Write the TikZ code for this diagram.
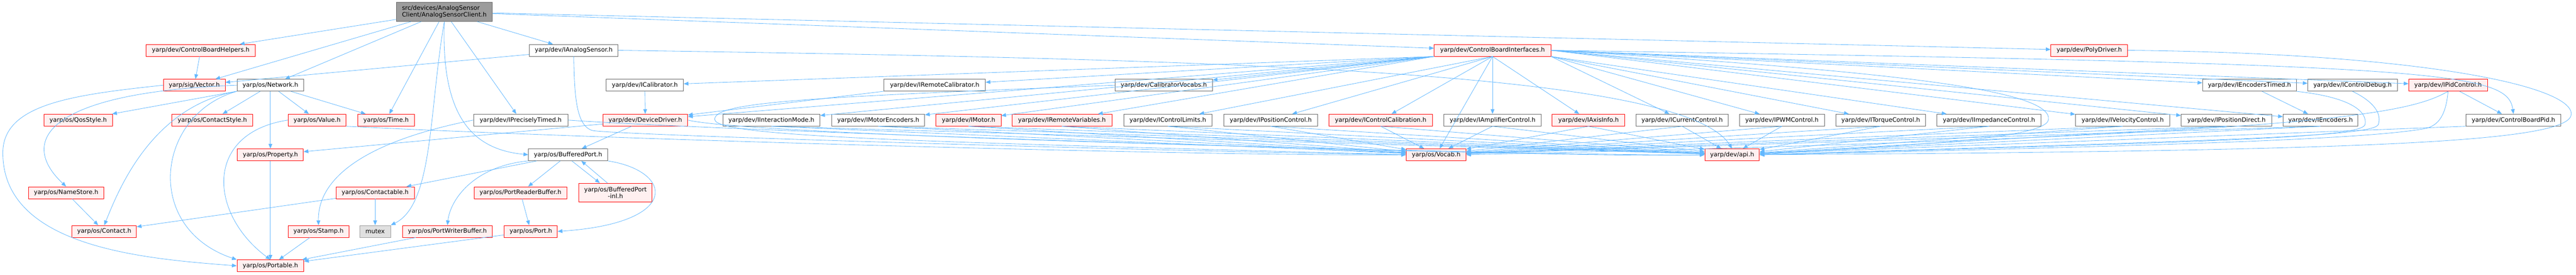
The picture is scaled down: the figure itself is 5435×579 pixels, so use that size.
\documentclass[tikz,border=0pt]{standalone}
\usepackage{fontspec}
\setmainfont{DejaVu Sans}
\usetikzlibrary{arrows.meta}
\definecolor{inclblue}{HTML}{63B8FF}
\definecolor{redfill}{HTML}{FFF0F0}
\definecolor{grayline}{HTML}{666666}
\tikzset{
  hdr/.style={draw=grayline, fill=white, line width=1pt, minimum height=25pt, inner sep=0pt,
    font=\fontsize{12.8}{14.5}\selectfont},
  hdrred/.style={hdr, draw=red, fill=redfill},
  hdrtop/.style={hdr, fill=grayline!65, minimum height=40pt},
  hdrext/.style={hdr, draw=grayline!65, fill=grayline!20},
  incl/.style={draw=inclblue, line width=0.9pt, -{Triangle[length=10pt,width=8pt]}}
}
\begin{document}
\begin{tikzpicture}[x=1pt,y=-1pt]
%\draw[step=100,gray,very thin] (0,0) grid (5435,579);
\useasboundingbox (0,0) rectangle (5435,579);

\node[hdrtop, minimum width=203pt, align=left] (src) at (937.5,25) {src/devices/AnalogSensor\\Client/AnalogSensorClient.h};

\node[hdrred, minimum width=231pt] (cbhelpers) at (423.5,106) {yarp/dev/ControlBoardHelpers.h};
\node[hdr, minimum width=187pt] (ianalogsensor) at (1210.5,106) {yarp/dev/IAnalogSensor.h};
\node[hdrred, minimum width=246pt] (cbinterfaces) at (3149,106) {yarp/dev/ControlBoardInterfaces.h};
\node[hdrred, minimum width=162pt] (polydriver) at (4408,106) {yarp/dev/PolyDriver.h};

\node[hdrred, minimum width=130pt] (vector) at (410,179.5) {yarp/sig/Vector.h};
\node[hdr, minimum width=141pt] (network) at (570.5,179.5) {yarp/os/Network.h};
\node[hdr, minimum width=163pt] (icalibrator) at (1360.5,179.5) {yarp/dev/ICalibrator.h};
\node[hdr, minimum width=214pt] (iremotecalibrator) at (1972,179.5) {yarp/dev/IRemoteCalibrator.h};
\node[hdr, minimum width=205pt] (calibratorvocabs) at (2455.5,179.5) {yarp/dev/CalibratorVocabs.h};
\node[hdr, minimum width=198pt] (iencoderstimed) at (4746,179.5) {yarp/dev/IEncodersTimed.h};
\node[hdr, minimum width=189pt] (icontroldebug) at (4963.5,179.5) {yarp/dev/IControlDebug.h};
\node[hdrred, minimum width=166pt] (ipidcontrol) at (5165,179.5) {yarp/dev/IPidControl.h};

\node[hdrred, minimum width=144pt] (qosstyle) at (165,253) {yarp/os/QosStyle.h};
\node[hdrred, minimum width=170pt] (contactstyle) at (448,253) {yarp/os/ContactStyle.h};
\node[hdrred, minimum width=122pt] (value) at (669,253) {yarp/os/Value.h};
\node[hdrred, minimum width=119pt] (time) at (814.5,253) {yarp/os/Time.h};
\node[hdr, minimum width=199pt] (ipreciselytimed) at (1098.5,253) {yarp/dev/IPreciselyTimed.h};
\node[hdrred, minimum width=179pt] (devicedriver) at (1361.5,253) {yarp/dev/DeviceDriver.h};
\node[hdr, minimum width=205pt] (iinteractionmode) at (1627.5,253) {yarp/dev/IInteractionMode.h};
\node[hdr, minimum width=196pt] (imotorencoders) at (1853,253) {yarp/dev/IMotorEncoders.h};
\node[hdrred, minimum width=137pt] (imotor) at (2043.5,253) {yarp/dev/IMotor.h};
\node[hdrred, minimum width=211pt] (iremotevariables) at (2240.5,253) {yarp/dev/IRemoteVariables.h};
\node[hdr, minimum width=186pt] (icontrollimits) at (2464,253) {yarp/dev/IControlLimits.h};
\node[hdr, minimum width=198pt] (ipositioncontrol) at (2681,253) {yarp/dev/IPositionControl.h};
\node[hdrred, minimum width=218pt] (icontrolcalibration) at (2913,253) {yarp/dev/IControlCalibration.h};
\node[hdr, minimum width=206pt] (iamplifiercontrol) at (3149,253) {yarp/dev/IAmplifierControl.h};
\node[hdrred, minimum width=153pt] (iaxisinfo) at (3351.5,253) {yarp/dev/IAxisInfo.h};
\node[hdr, minimum width=194pt] (icurrentcontrol) at (3549,253) {yarp/dev/ICurrentControl.h};
\node[hdr, minimum width=179pt] (ipwmcontrol) at (3759.5,253) {yarp/dev/IPWMControl.h};
\node[hdr, minimum width=190pt] (itorquecontrol) at (3968,253) {yarp/dev/ITorqueControl.h};
\node[hdr, minimum width=219pt] (iimpedancecontrol) at (4196.5,253) {yarp/dev/IImpedanceControl.h};
\node[hdr, minimum width=199pt] (ivelocitycontrol) at (4478.5,253) {yarp/dev/IVelocityControl.h};
\node[hdr, minimum width=191pt] (ipositiondirect) at (4697.5,253) {yarp/dev/IPositionDirect.h};
\node[hdr, minimum width=158pt] (iencoders) at (4896,253) {yarp/dev/IEncoders.h};
\node[hdr, minimum width=200pt] (controlboardpid) at (5303,253) {yarp/dev/ControlBoardPid.h};

\node[hdrred, minimum width=139pt] (property) at (570.5,326) {yarp/os/Property.h};
\node[hdr, minimum width=167pt] (bufferedport) at (1198.5,326) {yarp/os/BufferedPort.h};
\node[hdrred, minimum width=126pt] (vocab) at (3030,326) {yarp/os/Vocab.h};
\node[hdrred, minimum width=115pt] (api) at (3654.5,326) {yarp/dev/api.h};

\node[hdrred, minimum width=159pt] (namestore) at (139.5,406) {yarp/os/NameStore.h};
\node[hdrred, minimum width=165pt] (contactable) at (791.5,406) {yarp/os/Contactable.h};
\node[hdrred, minimum width=196pt] (portreaderbuffer) at (1098,406) {yarp/os/PortReaderBuffer.h};
\node[hdrred, minimum width=155pt, minimum height=40pt, align=center] (bufferedportinl) at (1298.5,406) {yarp/os/BufferedPort\\-inl.h};

\node[hdrred, minimum width=136pt] (contact) at (220,487.5) {yarp/os/Contact.h};
\node[hdrred, minimum width=128pt] (stamp) at (672,487.5) {yarp/os/Stamp.h};
\node[hdrext, minimum width=65pt] (mutex) at (791.5,487.5) {mutex};
\node[hdrred, minimum width=190pt] (portwriterbuffer) at (944,487.5) {yarp/os/PortWriterBuffer.h};
\node[hdrred, minimum width=112pt] (port) at (1120,487.5) {yarp/os/Port.h};

\node[hdrred, minimum width=141pt] (portable) at (570.5,560) {yarp/os/Portable.h};

\draw[incl] (src) -- (cbhelpers);
\draw[incl] (src) -- (vector);
\draw[incl] (src) -- (network);
\draw[incl] (src) -- (time);
\draw[incl] (src.south) .. controls (905,230) and (915,430) .. (mutex.north east);
\draw[incl] (src.south) .. controls (930,250) and (1000,315) .. (bufferedport.west);
\draw[incl] (src) -- (ipreciselytimed);
\draw[incl] (src) -- (ianalogsensor);
\draw[incl] (src) -- (cbinterfaces);
\draw[incl] (src) -- (polydriver);

\draw[incl] (cbhelpers) -- (vector);
\draw[incl] (ianalogsensor) -- (vector);
\draw[incl] (ianalogsensor.south) .. controls (1212,200) and (1215,265) .. (1250,275) .. controls (1300,285) and (2500,320) .. (vocab.west);
\draw[incl] (ianalogsensor.east) .. controls (2600,125) and (3550,150) .. (api.north);

\draw[incl] (vector.west) .. controls (150,200) and (8,220) .. (6,320) .. controls (4,520) and (300,545) .. (portable.west);
\draw[incl] (network.west) .. controls (90,195) and (40,300) .. (namestore.north);
\draw[incl] (network) -- (qosstyle);
\draw[incl] (network) -- (contactstyle);
\draw[incl] (network) -- (value);
\draw[incl] (network) -- (property);
\draw[incl] (network) -- (time);
\draw[incl] (network.south west) .. controls (320,225) and (250,400) .. (contact.north);
\draw[incl] (network.south west) .. controls (330,240) and (300,480) .. (portable.north west);

\draw[incl] (value.west) .. controls (430,280) and (440,450) .. (portable.north);
\draw[incl] (value.south east) .. controls (1300,295) and (2600,330) .. (vocab.west);
\draw[incl] (property) -- (portable);
\draw[incl] (namestore) -- (contact);
\draw[incl] (contactable) -- (contact);
\draw[incl] (contactable) -- (mutex);
\draw[incl] (stamp) -- (portable);
\draw[incl] (portwriterbuffer) -- (portable);
\draw[incl] (port) -- (portable);

\draw[incl] (ipreciselytimed.west) .. controls (760,300) and (670,380) .. (stamp.north);
\draw[incl] (ipreciselytimed.east) .. controls (1500,275) and (3300,335) .. (api.west);
\draw[incl] (devicedriver) -- (property);
\draw[incl] (devicedriver) -- (bufferedport);
\draw[incl] (devicedriver.east) .. controls (1600,290) and (3400,330) .. (api.west);
\draw[incl] (icalibrator) -- (devicedriver);
\draw[incl] (iremotecalibrator) -- (devicedriver);

\draw[incl] (bufferedport) -- (contactable);
\draw[incl] (bufferedport.south west) .. controls (1000,350) and (950,420) .. (portwriterbuffer.north);
\draw[incl] (bufferedport) -- (portreaderbuffer);
\draw[incl] ([xshift=8pt]bufferedport.south) -- ([xshift=-33pt]bufferedportinl.north);
\draw[incl] ([xshift=-17pt]bufferedportinl.north) -- ([xshift=28pt]bufferedport.south);
\draw[incl] (bufferedport.south east) .. controls (1420,360) and (1440,470) .. (port.east);
\draw[incl] (portreaderbuffer) -- (port);

\draw[incl] (cbinterfaces.south west) -- (icalibrator);
\draw[incl] (cbinterfaces.south west) -- (iremotecalibrator);
\draw[incl] (cbinterfaces.south west) -- (calibratorvocabs);
\draw[incl] (cbinterfaces.south west) -- (devicedriver);
\draw[incl] (cbinterfaces.south west) -- (iinteractionmode);
\draw[incl] (cbinterfaces.south west) -- (imotorencoders);
\draw[incl] (cbinterfaces.south west) -- (imotor);
\draw[incl] (cbinterfaces.south west) -- (iremotevariables);
\draw[incl] (cbinterfaces.south) -- (icontrollimits);
\draw[incl] (cbinterfaces.south) -- (ipositioncontrol);
\draw[incl] (cbinterfaces.south) -- (icontrolcalibration);
\draw[incl] (cbinterfaces.south) -- (iamplifiercontrol);
\draw[incl] (cbinterfaces.south) -- (iaxisinfo);
\draw[incl] (cbinterfaces.south) -- (vocab);
\draw[incl] (cbinterfaces.south east) -- (icurrentcontrol);
\draw[incl] (cbinterfaces.south east) -- (ipwmcontrol);
\draw[incl] (cbinterfaces.south east) -- (itorquecontrol);
\draw[incl] (cbinterfaces.south east) -- (iimpedancecontrol);
\draw[incl] (cbinterfaces.east) -- (ivelocitycontrol);
\draw[incl] (cbinterfaces.east) -- (ipositiondirect);
\draw[incl] (cbinterfaces.east) -- (iencoders);
\draw[incl] (cbinterfaces.east) -- (iencoderstimed);
\draw[incl] (cbinterfaces.east) -- (icontroldebug);
\draw[incl] (cbinterfaces.east) -- (ipidcontrol);
\draw[incl] (cbinterfaces.east) .. controls (5150,135) and (5290,150) .. (controlboardpid.north);
\draw[incl] (cbinterfaces.east) .. controls (4000,150) and (4330,190) .. (4322,252) .. controls (4315,300) and (3900,310) .. (api.east);
\draw[incl] (calibratorvocabs.west) .. controls (1700,205) and (1505,215) .. (1508,252) .. controls (1512,290) and (2000,300) .. (vocab.west);
\draw[incl] (polydriver.east) .. controls (5100,112) and (5425,180) .. (5425,240) .. controls (5425,300) and (5000,318) .. (api.east);

\draw[incl] (iinteractionmode.south) -- (vocab);
\draw[incl] (iinteractionmode.south) -- (api);
\draw[incl] (imotorencoders.south) -- (vocab);
\draw[incl] (imotorencoders.south) -- (api);
\draw[incl] (imotor.south) -- (vocab);
\draw[incl] (imotor.south) -- (api);
\draw[incl] (iremotevariables.south) -- (vocab);
\draw[incl] (iremotevariables.south) -- (api);
\draw[incl] (icontrollimits.south) -- (vocab);
\draw[incl] (icontrollimits.south) -- (api);
\draw[incl] (ipositioncontrol.south) -- (vocab);
\draw[incl] (ipositioncontrol.south) -- (api);
\draw[incl] (icontrolcalibration.south) -- (vocab);
\draw[incl] (icontrolcalibration.south) -- (api);
\draw[incl] (iamplifiercontrol.south) -- (vocab);
\draw[incl] (iamplifiercontrol.south) -- (api);
\draw[incl] (iaxisinfo.south) -- (vocab);
\draw[incl] (iaxisinfo.south) -- (api);
\draw[incl] (icurrentcontrol.south) -- (vocab);
\draw[incl] (icurrentcontrol.south) -- (api);
\draw[incl] (ipwmcontrol.south) -- (vocab);
\draw[incl] (ipwmcontrol.south) -- (api);
\draw[incl] (itorquecontrol.south) -- (vocab);
\draw[incl] (itorquecontrol.south) -- (api);
\draw[incl] (iimpedancecontrol.south) -- (vocab);
\draw[incl] (iimpedancecontrol.south) -- (api);
\draw[incl] (ivelocitycontrol.south) -- (vocab);
\draw[incl] (ivelocitycontrol.south) -- (api);
\draw[incl] (ipositiondirect.south) -- (vocab);
\draw[incl] (ipositiondirect.south) -- (api);
\draw[incl] (iencoders.south) -- (vocab);
\draw[incl] (iencoders.south) -- (api);
\draw[incl] (controlboardpid.south west) -- (api);

\draw[incl] (iencoderstimed) -- (iencoders);
\draw[incl] (iencoderstimed.south east) .. controls (4960,205) and (4995,235) .. (4990,262) .. controls (4985,290) and (4700,298) .. (api.east);
\draw[incl] (icontroldebug.south) .. controls (5010,215) and (5025,240) .. (5018,262) .. controls (5010,288) and (4700,295) .. (api.east);
\draw[incl] (ipidcontrol) -- (controlboardpid);
\draw[incl] (ipidcontrol.south) .. controls (5080,240) and (4900,285) .. (vocab.east);
\draw[incl] (ipidcontrol.south) .. controls (5160,250) and (5140,268) .. (5110,272) .. controls (5000,290) and (4700,305) .. (api.east);

\end{tikzpicture}
\end{document}
